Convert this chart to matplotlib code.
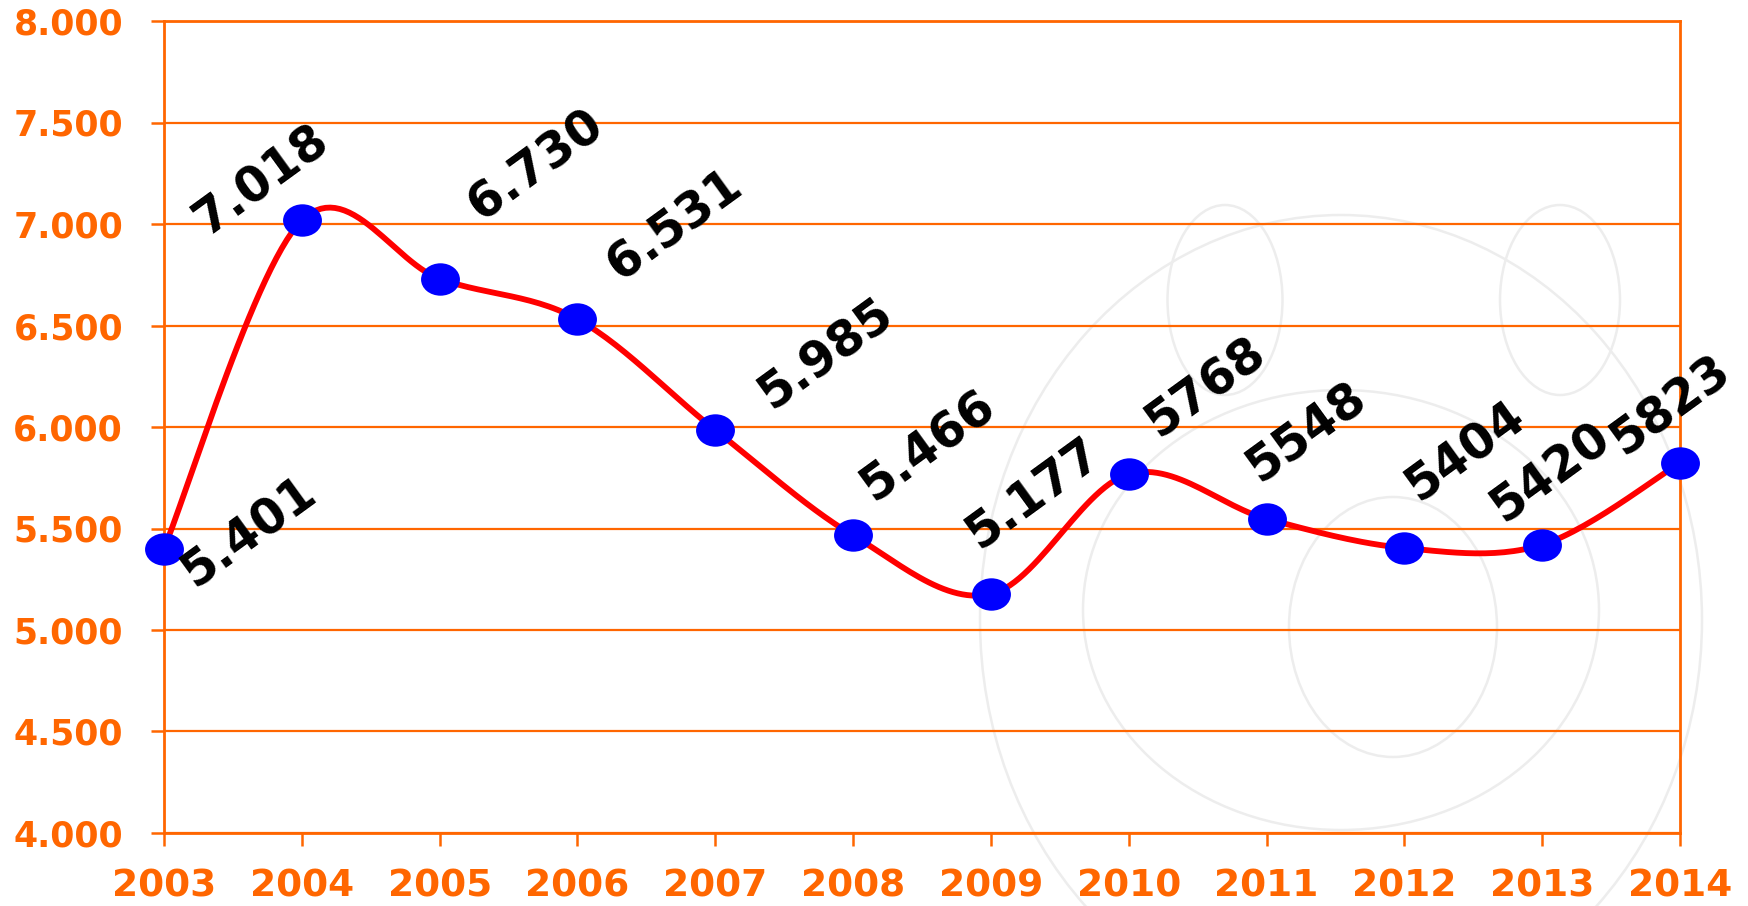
import numpy as np
import matplotlib
matplotlib.use("Agg")
import matplotlib.pyplot as plt
from matplotlib.path import Path
from matplotlib.patches import Ellipse
from matplotlib.ticker import FuncFormatter

# ---- data ----
years = [2003, 2004, 2005, 2006, 2007, 2008, 2009, 2010, 2011, 2012, 2013, 2014]
values = [5401, 7018, 6730, 6531, 5985, 5466, 5177, 5768, 5548, 5404, 5420, 5823]
point_labels = ["5.401", "7.018", "6.730", "6.531", "5.985", "5.466", "5.177",
                "5768", "5548", "5404", "5420", "5823"]
y_ticks = [4000, 4500, 5000, 5500, 6000, 6500, 7000, 7500, 8000]

# label offsets in pixels (layout only)
label_offsets = [(85, 16), (-40, 40), (96, 114), (97, 94), (111, 76), (75, 89),
                 (42, 101), (77, 87), (40, 86), (61, 96), (8, 72), (-10, 57)]

ORANGE = "#FF6600"
FONT = "DejaVu Sans"

W, H, DPI = 1748, 906, 100
fig = plt.figure(figsize=(W / DPI, H / DPI), dpi=DPI, facecolor="white")

# faint watermark (background)
wm = fig.add_axes([0, 0, 1, 1], zorder=0)
wm.set_xlim(0, W)
wm.set_ylim(H, 0)
wm.axis("off")
wm_col = "#ededed"
for (cx, cy, w, h) in [(1341, 620, 722, 810), (1341, 610, 516, 440),
                       (1393, 627, 208, 260), (1225, 300, 115, 190),
                       (1560, 300, 120, 190)]:
    wm.add_patch(Ellipse((cx, cy), w, h, fill=False, ec=wm_col, lw=1.8))

left, right, top, bottom = 164, 1680, 21, 833
ax = fig.add_axes([left / W, 1 - bottom / H, (right - left) / W, (bottom - top) / H],
                  zorder=1)
ax.set_facecolor("none")

# smooth curve (Excel-like Bezier / Catmull-Rom)
x = np.array(years, dtype=float)
y = np.array(values, dtype=float)
n = len(x)
xs, ys = [], []
t = np.linspace(0, 1, 30)
for i in range(n - 1):
    p0 = np.array([x[i], y[i]])
    p3 = np.array([x[i + 1], y[i + 1]])
    prev = np.array([x[i - 1], y[i - 1]]) if i > 0 else p0
    nxt = np.array([x[i + 2], y[i + 2]]) if i + 2 < n else p3
    c1 = p0 + (p3 - prev) / 6.0
    c2 = p3 - (nxt - p0) / 6.0
    seg = ((1 - t) ** 3)[:, None] * p0 + (3 * (1 - t) ** 2 * t)[:, None] * c1 \
        + (3 * (1 - t) * t ** 2)[:, None] * c2 + (t ** 3)[:, None] * p3
    xs.extend(seg[:, 0])
    ys.extend(seg[:, 1])

ax.plot(xs, ys, color="#FF0000", lw=4.2, solid_capstyle="round", zorder=3, clip_on=False)

circ = Path.unit_circle()
ell = Path(circ.vertices * np.array([1.2, 1.0]), circ.codes)
ax.plot(x, y, linestyle="none", marker=ell, markersize=28, color="#0000FF",
        markeredgewidth=0, zorder=4, clip_on=False)

for xi, yi, lab, off in zip(x, y, point_labels, label_offsets):
    ax.annotate(lab, (xi, yi), xytext=off, textcoords="offset pixels",
                ha="center", va="center", rotation=36, rotation_mode="anchor",
                fontsize=35, fontweight="bold", family=FONT, color="black",
                zorder=5, annotation_clip=False)

ax.set_xlim(2003, 2014)
ax.set_ylim(4000, 8000)
ax.set_xticks(years)
ax.set_yticks(y_ticks)
ax.yaxis.set_major_formatter(FuncFormatter(lambda v, p: f"{int(v):,}".replace(",", ".")))
ax.grid(axis="y", color=ORANGE, lw=1.6)
ax.set_axisbelow(True)
for s in ax.spines.values():
    s.set_color(ORANGE)
    s.set_linewidth(2)
ax.tick_params(axis="both", colors=ORANGE, direction="out", length=9.5, width=1.8)
ax.tick_params(axis="y", pad=20)
ax.tick_params(axis="x", pad=16)
for lbl in ax.get_yticklabels():
    lbl.set_fontsize(25)
    lbl.set_fontweight("bold")
    lbl.set_family(FONT)
    lbl.set_color(ORANGE)
for lbl in ax.get_xticklabels():
    lbl.set_fontsize(27)
    lbl.set_fontweight("bold")
    lbl.set_family(FONT)
    lbl.set_color(ORANGE)

fig.savefig("out.png", dpi=DPI, facecolor="white")
